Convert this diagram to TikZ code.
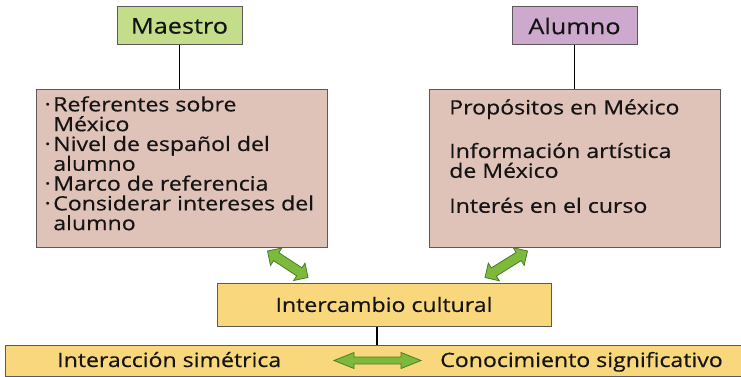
\documentclass[tikz,border=0pt]{standalone}
\usepackage{graphicx}
\usepackage{fontspec}
\setmainfont[FakeStretch=1.17, FakeBold=0.4]{Open Sans}
\usetikzlibrary{calc}

\definecolor{verdecab}{RGB}{195,221,139}
\definecolor{moradocab}{RGB}{204,169,205}
\definecolor{rosacaja}{RGB}{223,194,184}
\definecolor{amarillo}{RGB}{249,215,125}
\definecolor{verdeflecha}{RGB}{125,186,59}
\definecolor{verdeoscuro}{RGB}{76,122,42}
\definecolor{borde}{RGB}{90,90,90}
\definecolor{tinta}{RGB}{20,20,20}

\newcommand\punto{\makebox[6pt][l]{\raisebox{0.3ex}{\scalebox{0.55}{\textbullet}}}}
\newcommand\sangria{\hspace*{6pt}}

\tikzset{
  cabecera/.style={draw=borde, line width=0.75pt, minimum width=93.75pt, minimum height=28.5pt,
    inner sep=0pt, text=tinta, font={\fontsize{16.2}{17}\selectfont}},
  caja/.style={draw=borde, line width=0.75pt, fill=rosacaja, minimum width=218.25pt, minimum height=118.5pt},
  franja/.style={draw=borde, line width=0.75pt, fill=amarillo, inner sep=0pt, text=tinta,
    font={\fontsize{14.8}{14.85}\selectfont}},
  texto/.style={inner sep=0pt, align=left, text=tinta, font={\fontsize{14.8}{14.85}\selectfont}},
  linea/.style={line width=1.1pt, black},
  flecha/.style n args={3}{draw=verdeoscuro, fill=verdeflecha, line width=0.6pt, line join=miter,
    to path={
      -- ($(\tikztostart)!#1!(\tikztotarget)!#2!90:(\tikztotarget)$)
      -- ($(\tikztostart)!#1!(\tikztotarget)!#3!90:(\tikztotarget)$)
      -- ($(\tikztotarget)!#1!(\tikztostart)!#3!-90:(\tikztostart)$)
      -- ($(\tikztotarget)!#1!(\tikztostart)!#2!-90:(\tikztostart)$)
      -- (\tikztotarget)
      -- ($(\tikztotarget)!#1!(\tikztostart)!#2!90:(\tikztostart)$)
      -- ($(\tikztotarget)!#1!(\tikztostart)!#3!90:(\tikztostart)$)
      -- ($(\tikztostart)!#1!(\tikztotarget)!#3!-90:(\tikztotarget)$)
      -- ($(\tikztostart)!#1!(\tikztotarget)!#2!-90:(\tikztotarget)$)
      -- cycle}}
}

\begin{document}
\begin{tikzpicture}[x=0.75pt, y=-0.75pt]
  \useasboundingbox (0,0) rectangle (741,377);
  % cabeceras
  \node[cabecera, fill=verdecab] (maestro) at (179.5,26) {Maestro};
  \node[cabecera, fill=moradocab] (alumno) at (574.5,26) {Alumno};
  % cajas de referentes
  \node[caja] (refmaestro) at (181.5,169) {};
  \node[caja] (refalumno) at (574.5,169) {};
  \node[texto, anchor=north west] (listamaestro) at (45,96) {\punto Referentes sobre\\
    \sangria México\\
    \punto Nivel de español del\\
    \sangria alumno\\
    \punto Marco de referencia\\
    \punto Considerar intereses del\\
    \sangria alumno};
  \node[texto, anchor=north west] (listaalumno) at (449,99) {Propósitos en México\\[16.8pt]
    Información artística\\
    de México\\[11.4pt]
    Interés en el curso};
  % intercambio y franja de abajo
  \node[franja, minimum width=250.5pt, minimum height=32.25pt] (intercambio) at (384,304.5) {Intercambio cultural};
  \node[franja, minimum width=558pt, minimum height=23.25pt] (base) at (377,360.5) {};
  \node[texto, anchor=base west] (interaccion) at (57,367) {Interacción simétrica};
  \node[texto, anchor=base west] (conocimiento) at (440,367) {Conocimiento significativo};
  % lineas
  \draw[linea] (maestro.south) -- (maestro.south |- refmaestro.north);
  \draw[linea] (alumno.south) -- (alumno.south |- refalumno.north);
  \draw[linea] (intercambio.south -| base.north) -- (base.north);
  % flechas
  \draw[flecha={7.8pt}{7.8pt}{3.6pt}] ($(refmaestro.south)+(86,2.5)$) to ($(intercambio.north)+(-76,-5)$);
  \draw[flecha={7.8pt}{7.8pt}{3.6pt}] ($(refalumno.south)+(-47,2.5)$) to ($(intercambio.north)+(101,-5)$);
  \draw[flecha={15pt}{6pt}{2.6pt}] ($(base.center)+(-43,0)$) to ($(base.center)+(44,0)$);
\end{tikzpicture}
\end{document}
